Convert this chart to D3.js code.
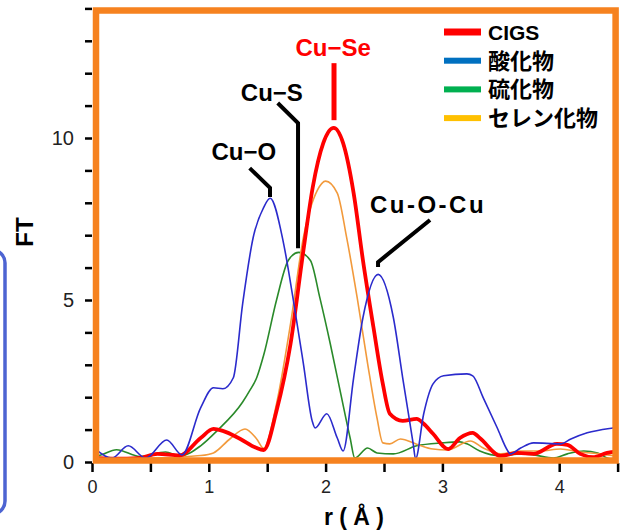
<!DOCTYPE html>
<html>
<head>
<meta charset="utf-8">
<script src="https://cdn.jsdelivr.net/npm/d3@7/dist/d3.min.js"></script>
<style>
  body { margin: 0; background: #fff; }
  svg { display: block; }
  text { font-family: "Liberation Sans", Arial, "Noto Sans CJK JP", sans-serif; }
</style>
</head>
<body>
<svg id="chart" width="624" height="531"></svg>
<script>
// FT vs r, values as [r, FT]
var cigs = [[0,0.12],[0.2,0.1],[0.4,0.12],[0.56,0.25],[0.75,0.2],[0.93,0.74],[1.04,1.02],[1.12,0.96],[1.27,0.71],[1.4,0.45],[1.47,0.37],
  [1.58,1.58],[1.70,3.65],[1.81,6.53],[1.89,8.48],[1.98,9.84],[2.07,10.31],[2.15,9.84],[2.24,8.3],[2.32,6.22],[2.41,4.15],[2.49,2.41],
  [2.55,1.49],[2.66,1.27],[2.78,1.33],[2.84,1.18],[2.92,0.87],[3.05,0.4],[3.15,0.74],[3.26,0.9],[3.32,0.74],[3.5,0.19],[3.64,0.28],
  [3.78,0.25],[3.98,0.56],[4.07,0.53],[4.18,0.25],[4.29,0.15],[4.41,0.28],[4.5,0.32]];

var oxide = [[0,0.5],[0.03,0.4],[0.17,0.12],[0.31,0.5],[0.46,0.12],[0.64,0.68],[0.77,0.22],[0.93,1.67],[1.04,2.29],[1.12,2.26],[1.21,2.6],
  [1.29,4.89],[1.38,6.93],[1.47,7.86],[1.525,8.14],[1.64,6.75],[1.72,5.08],[1.81,3.03],[1.885,1.27],[1.91,1.05],[2.01,1.49],[2.10,0.74],
  [2.15,0.34],[2.24,2.6],[2.32,4.46],[2.45,5.79],[2.58,4.46],[2.66,2.6],[2.75,0.56],[2.77,0.1],[2.84,1.49],[2.92,2.41],[3.01,2.66],
  [3.21,2.72],[3.26,2.66],[3.35,1.98],[3.47,1.05],[3.56,0.34],[3.58,0.25],[3.67,0.43],[3.78,0.59],[4.01,0.56],[4.10,0.71],[4.24,0.9],
  [4.46,1.05],[4.5,1.07]];

var sulfide = [[0,0.2],[0.04,0.19],[0.21,0.38],[0.41,0.17],[0.63,0.31],[0.75,0.18],[0.93,0.5],[1.07,0.96],[1.29,1.85],[1.35,2.2],[1.41,2.6],
  [1.47,3.3],[1.58,5.0],[1.68,6.22],[1.77,6.47],[1.87,6.22],[1.95,5.08],[2.04,3.65],[2.13,2.1],[2.21,0.74],[2.25,0.12],[2.36,0.43],
  [2.44,0.28],[2.58,0.25],[2.78,0.5],[3.0,0.59],[3.15,0.62],[3.21,0.56],[3.32,0.34],[3.5,0.19],[3.67,0.25],[3.78,0.22],[3.95,0.12],
  [4.07,0.25],[4.21,0.34],[4.33,0.28],[4.41,0.12],[4.5,0.05]];

var selenide = [[0,0.15],[0.5,0.12],[0.93,0.2],[1.04,0.28],[1.18,0.71],[1.31,1.02],[1.41,0.71],[1.47,0.42],[1.58,1.8],[1.70,4.27],
  [1.81,6.93],[1.93,8.39],[2.0,8.67],[2.1,8.3],[2.18,6.93],[2.27,5.08],[2.36,3.03],[2.44,1.36],[2.49,0.59],[2.55,0.56],[2.64,0.71],
  [2.78,0.55],[2.92,0.4],[3.04,0.37],[3.24,0.65],[3.35,0.43],[3.5,0.25],[3.67,0.34],[3.84,0.34],[4.01,0.4],[4.18,0.31],[4.35,0.25],[4.5,0.18]];

var legendNames = ["CIGS", "酸化物", "硫化物", "セレン化物"];
var xTicks = [0, 0.5, 1, 1.5, 2, 2.5, 3, 3.5, 4, 4.5];
var yTicks = [0,1,2,3,4,5,6,7,8,9,10,11,12,13,14];

// peak labels, anchor + leader points in data units
var peakLabels = [
  {text: "Cu−O", at: [1.30, 9.6], line: [[1.35,9.07],[1.524,8.46],[1.524,8.18]], color: "#000"},
  {text: "Cu−S", at: [1.54, 11.42], line: [[1.59,11.08],[1.764,10.46],[1.764,6.6]], color: "#000"},
  {text: "Cu−Se", at: [2.065, 12.81], line: [[2.072,12.31],[2.072,10.55]], color: "#ff0000"},
  {text: "Cu-O-Cu", at: [2.877, 7.96], line: [[2.894,7.47],[2.449,6.17],[2.449,6.02]], color: "#000", spacing: 2.5}
];

var svg = d3.select("#chart");

var x = d3.scaleLinear().domain([0, 4.5]).range([92, 617.6]);
var y = d3.scaleLinear().domain([0, 14]).range([462, 8.4]);

// blue box on the far left, cut by the page edge
svg.append("rect")
  .attr("x", -25).attr("y", 250).attr("width", 30).attr("height", 264).attr("rx", 13)
  .attr("fill", "none").attr("stroke", "#4d64d2").attr("stroke-width", 3.5);

var yAxis = d3.axisLeft(y).tickValues(yTicks).tickSize(7).tickPadding(11)
  .tickFormat(function(d) { return d % 5 === 0 ? d : ""; });
var gy = svg.append("g").attr("transform", "translate(" + x(0) + ",0)").call(yAxis);

var xAxis = d3.axisBottom(x).tickValues(xTicks).tickSize(9).tickPadding(8)
  .tickFormat(function(d) { return d % 1 === 0 ? d : ""; });
var gx = svg.append("g").attr("transform", "translate(0," + (y(0) + 1) + ")").call(xAxis);

[gx, gy].forEach(function(g) {
  g.select(".domain").remove();
  g.selectAll(".tick line").attr("stroke", "#000").attr("stroke-width", 2.5);
  g.selectAll(".tick text").attr("fill", "#222");
});
gx.selectAll(".tick text").style("font-size", "18px");
gy.selectAll(".tick text").style("font-size", "20px");

svg.append("clipPath").attr("id", "plotclip")
  .append("rect").attr("x", x(0) + 4).attr("y", 10).attr("width", x(4.5) - x(0) - 5).attr("height", y(0) - 11);

var line = d3.line()
  .x(function(d) { return x(d[0]); })
  .y(function(d) { return y(d[1]); })
  .curve(d3.curveMonotoneX);

var series = [
  {data: sulfide, color: "#2a8a2a", width: 1.6},
  {data: selenide, color: "#f29a3c", width: 1.6},
  {data: cigs, color: "#ff0000", width: 3.8},
  {data: oxide, color: "#2b2bcc", width: 1.6}
];

svg.append("g").attr("clip-path", "url(#plotclip)")
  .selectAll("path").data(series).enter()
  .append("path")
  .attr("d", function(d) { return line(d.data); })
  .attr("fill", "none")
  .attr("stroke", function(d) { return d.color; })
  .attr("stroke-width", function(d) { return d.width; })
  .attr("stroke-linejoin", "round");

// orange frame
svg.append("rect")
  .attr("x", x(0) + 4).attr("y", 10.5)
  .attr("width", x(4.5) - x(0) - 6).attr("height", y(0) - 12)
  .attr("fill", "none").attr("stroke", "#f6821f").attr("stroke-width", 6.5);

// peak labels
var pl = svg.append("g").selectAll("g").data(peakLabels).enter().append("g");
pl.append("path")
  .attr("d", function(d) { return d3.line().x(function(p) { return x(p[0]); }).y(function(p) { return y(p[1]); })(d.line); })
  .attr("fill", "none")
  .attr("stroke", function(d) { return d.color; })
  .attr("stroke-width", function(d) { return d.color === "#000" ? 4 : 5; });
pl.append("text")
  .attr("x", function(d) { return x(d.at[0]); })
  .attr("y", function(d) { return y(d.at[1]); })
  .attr("dy", "0.36em")
  .attr("text-anchor", "middle")
  .style("font-size", "24px").style("font-weight", "bold")
  .style("letter-spacing", function(d) { return (d.spacing || 0) + "px"; })
  .attr("fill", function(d) { return d.color; })
  .text(function(d) { return d.text; });

// legend
var legendColors = ["#ff0000", "#0070c0", "#00b050", "#ffc000"];
var lg = svg.append("g").selectAll("g").data(legendNames).enter().append("g")
  .attr("transform", function(d, i) { return "translate(444," + (32 + i * 28.7) + ")"; });
lg.append("rect")
  .attr("x", 0).attr("width", 37)
  .attr("y", function(d, i) { return i === 0 ? -3.5 : -3; })
  .attr("height", function(d, i) { return i === 0 ? 7 : 6; })
  .attr("fill", function(d, i) { return legendColors[i]; });
lg.append("text")
  .attr("x", 44).attr("dy", "0.36em")
  .style("font-size", function(d, i) { return i === 0 ? "21px" : "22px"; })
  .style("font-weight", "bold")
  .attr("fill", "#000")
  .text(function(d) { return d; });

// axis titles
svg.append("text")
  .attr("transform", "translate(33,232) rotate(-90)")
  .attr("text-anchor", "middle")
  .style("font-size", "24px").style("font-weight", "bold")
  .text("FT");

svg.append("text")
  .attr("x", 354).attr("y", 525)
  .attr("text-anchor", "middle")
  .style("font-size", "23px").style("font-weight", "bold")
  .text("r ( Å )");
</script>
</body>
</html>
